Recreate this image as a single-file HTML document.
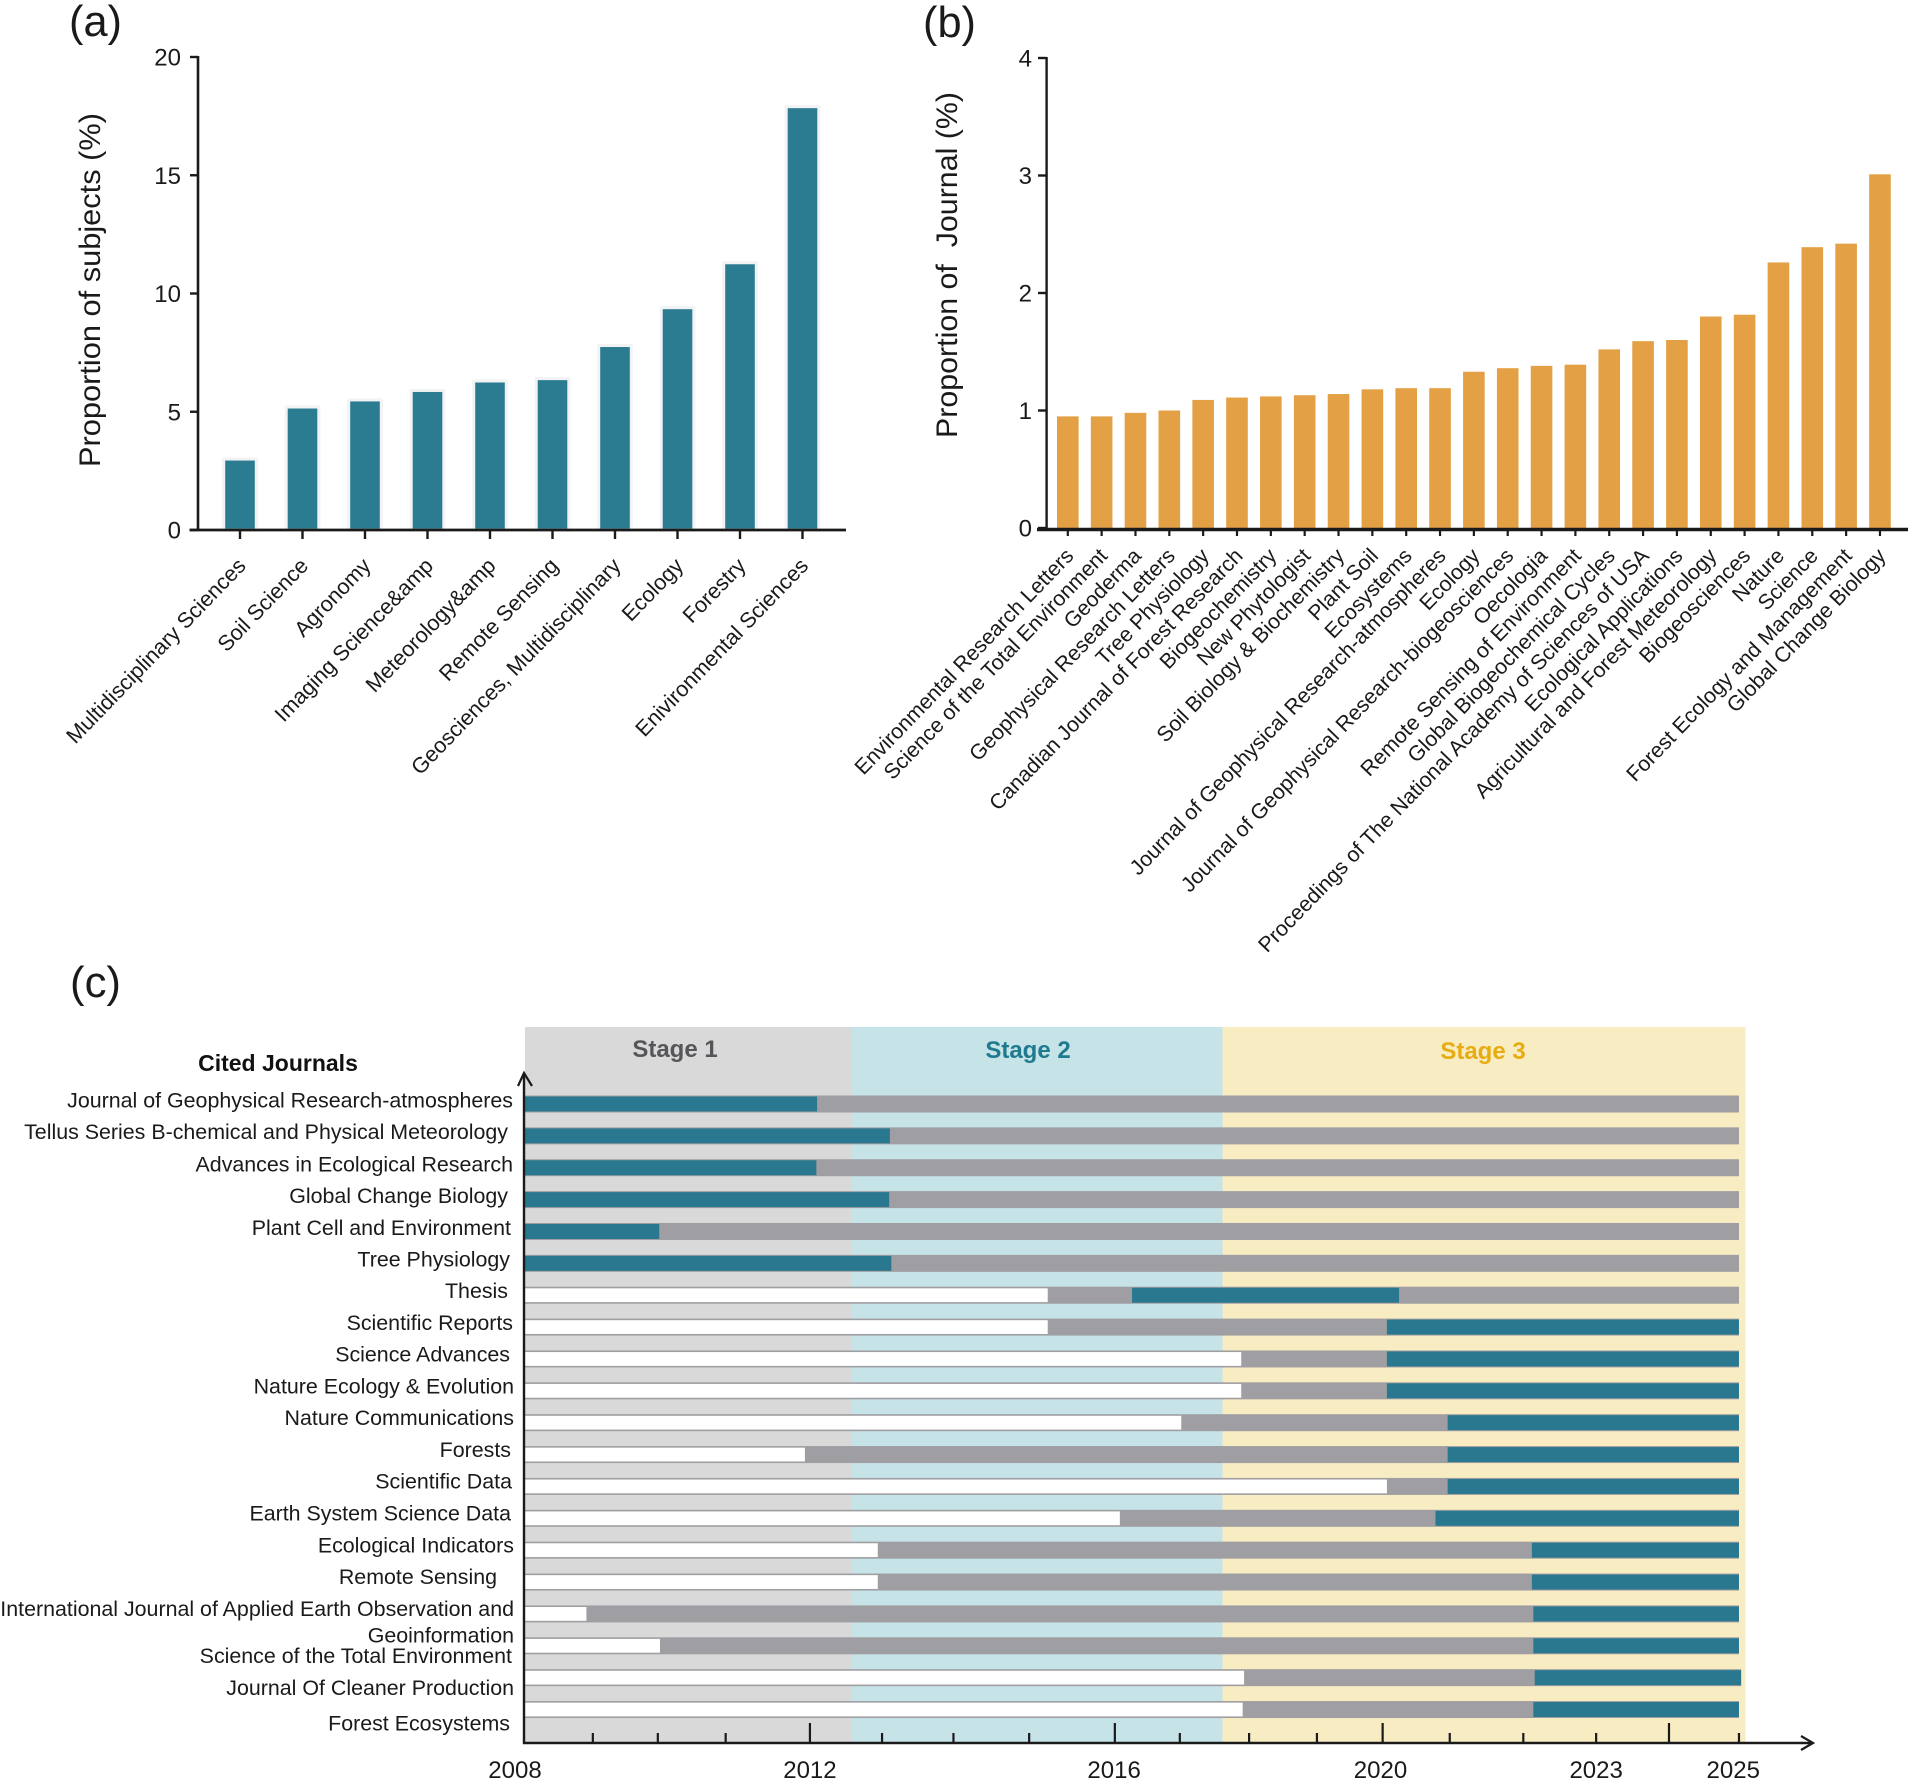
<!DOCTYPE html>
<html lang="en">
<head>
<meta charset="utf-8">
<title>Subject, journal and cited journal analysis</title>
<style>
html,body{margin:0;padding:0;background:#fff;}
svg{display:block;font-family:"Liberation Sans",sans-serif;}
text{fill:#1a1a1a;}
.tick{font-size:24px;}
.plabel{font-size:44px;}
.axt{font-size:30px;white-space:pre;}
.xl{font-size:21.7px;}
.xb{font-size:21.3px;}
.j{font-size:21.4px;text-anchor:end;}
.st{font-size:24px;font-weight:bold;text-anchor:middle;}
.yr{font-size:24px;text-anchor:middle;}
</style>
</head>
<body>
<svg id="fig" xmlns="http://www.w3.org/2000/svg" width="1908" height="1783" viewBox="0 0 1908 1783">
  <rect x="0" y="0" width="1908" height="1783" fill="#fff"/>

  <text class="plabel" x="69" y="36" textLength="53" lengthAdjust="spacingAndGlyphs">(a)</text>
  <text class="plabel" x="923" y="37" textLength="53" lengthAdjust="spacingAndGlyphs">(b)</text>
  <text class="plabel" x="70" y="997" textLength="51" lengthAdjust="spacingAndGlyphs">(c)</text>

  <g id="panelA">
    <text class="axt" transform="translate(100,467) rotate(-90)" textLength="354" lengthAdjust="spacingAndGlyphs">Proportion of subjects (%)</text>
  </g>
  <g id="panelB">
    <text class="axt" transform="translate(957,438) rotate(-90)" textLength="346" lengthAdjust="spacingAndGlyphs" xml:space="preserve">Proportion of  Journal (%)</text>
  </g>

  <g id="panelC">
    <rect x="525" y="1027" width="326" height="716" fill="#d9d9d9"/>
    <rect x="851" y="1027" width="371.5" height="716" fill="#c6e3e8"/>
    <rect x="1222.5" y="1027" width="523" height="716" fill="#f8ecc3"/>
    <text class="st" x="675" y="1057" style="fill:#555659">Stage 1</text>
    <text class="st" x="1028" y="1058" style="fill:#1f7a90">Stage 2</text>
    <text class="st" x="1483" y="1059" style="fill:#e6ac12">Stage 3</text>
    <text x="278" y="1071" text-anchor="middle" font-size="23" font-weight="bold" style="fill:#111">Cited Journals</text>

    <g id="rows"></g>
    <g id="cAxis"></g>

    <text class="j" x="513" y="1107.5">Journal of Geophysical Research-atmospheres</text>
    <text class="j" x="508" y="1139">Tellus Series B-chemical and Physical Meteorology</text>
    <text class="j" x="513" y="1171.5">Advances in Ecological Research</text>
    <text class="j" x="508" y="1203">Global Change Biology</text>
    <text class="j" x="511" y="1235">Plant Cell and Environment</text>
    <text class="j" x="510" y="1266.5">Tree Physiology</text>
    <text class="j" x="508" y="1298">Thesis</text>
    <text class="j" x="513" y="1330">Scientific Reports</text>
    <text class="j" x="510" y="1361.5">Science Advances</text>
    <text class="j" x="514" y="1393.5">Nature Ecology &amp; Evolution</text>
    <text class="j" x="514" y="1425">Nature Communications</text>
    <text class="j" x="511" y="1457">Forests</text>
    <text class="j" x="512" y="1488.5">Scientific Data</text>
    <text class="j" x="511" y="1520.5">Earth System Science Data</text>
    <text class="j" x="514" y="1552.5">Ecological Indicators</text>
    <text class="j" x="497" y="1584">Remote Sensing</text>
    <text class="j" x="514" y="1616">International Journal of Applied Earth Observation and</text>
    <text class="j" x="514" y="1642.5">Geoinformation</text>
    <text class="j" x="512" y="1663">Science of the Total Environment</text>
    <text class="j" x="514" y="1695">Journal Of Cleaner Production</text>
    <text class="j" x="510" y="1730.5">Forest Ecosystems</text>
  </g>
</svg>

<script>
// Panel (a) data
const subjectNames = ["Multidisciplinary Sciences","Soil Science","Agronomy","Imaging Science&amp","Meteorology&amp","Remote Sensing","Geosciences, Multidisciplinary","Ecology","Forestry","Enivironmental Sciences"];
const subjectValues = [3.0,5.2,5.5,5.9,6.3,6.4,7.8,9.4,11.3,17.9];
const subjectTicks = [0,5,10,15,20];

// Panel (b) data
const journalNames = ["Environmental Research Letters","Science of the Total Environment","Geoderma","Geophysical Research Letters","Tree Physiology","Canadian Journal of Forest Research","Biogeochemistry","New Phytologist","Soil Biology & Biochemistry","Plant Soil","Ecosystems","Journal of Geophysical Research-atmospheres","Ecology","Journal of Geophysical Research-biogeosciences","Oecologia","Remote Sensing of Environment","Global Biogeochemical Cycles","Proceedings of The National Academy of Sciences of USA","Ecological Applications","Agricultural and Forest Meteorology","Biogeosciences","Nature","Science","Forest Ecology and Management","Global Change Biology"];
const journalValues = [0.95,0.95,0.98,1.0,1.09,1.11,1.12,1.13,1.14,1.18,1.19,1.19,1.33,1.36,1.38,1.39,1.52,1.59,1.60,1.80,1.815,2.26,2.39,2.42,3.01];
const journalTicks = [0,1,2,3,4];

// Panel (c) data, all values in decimal years
const citedJournals = ["Journal of Geophysical Research-atmospheres","Tellus Series B-chemical and Physical Meteorology","Advances in Ecological Research","Global Change Biology","Plant Cell and Environment","Tree Physiology","Thesis","Scientific Reports","Science Advances","Nature Ecology & Evolution","Nature Communications","Forests","Scientific Data","Earth System Science Data","Ecological Indicators","Remote Sensing","International Journal of Applied Earth Observation and Geoinformation","Science of the Total Environment","Journal Of Cleaner Production","Forest Ecosystems"];
const firstCited = [2008,2008,2008,2008,2008,2008,2015.32,2015.32,2018.03,2018.03,2017.19,2011.92,2020.07,2016.33,2012.94,2012.94,2008.86,2009.89,2018.07,2018.05];
const burstStart = [2008,2008,2008,2008,2008,2008,2016.5,2020.07,2020.07,2020.07,2020.92,2020.92,2020.92,2020.75,2022.1,2022.1,2022.12,2022.12,2022.14,2022.12];
const burstEnd = [2012.09,2013.11,2012.08,2013.1,2009.88,2013.13,2020.24,2025,2025,2025,2025,2025,2025,2025,2025,2025,2025,2025,2025.03,2025];
const lastYear = [2025,2025,2025,2025,2025,2025,2025,2025,2025,2025,2025,2025,2025,2025,2025,2025,2025,2025,2025.03,2025];
const minorTickYears = [2008.95,2009.86,2010.81,2013,2014,2015.06,2017.17,2018.14,2019.09,2020.95,2021.98,2023,2025];
const majorTickYears = [2011.99,2016.26,2020.01,2024.02];
const yearLabels = ["2008","2012","2016","2020","2023","2025"];
const yearLabelPositions = [2007.86,2011.99,2016.25,2019.98,2023,2024.92];

const NS = "http://www.w3.org/2000/svg";
function mk(tag, parent){
  const el = document.createElementNS(NS, tag);
  parent.appendChild(el);
  return el;
}
function rect(parent, x, y, w, h, fill){
  const el = mk("rect", parent);
  el.setAttribute("x", x);
  el.setAttribute("y", y);
  el.setAttribute("width", Math.max(0, w));
  el.setAttribute("height", Math.max(0, h));
  el.setAttribute("fill", fill);
  return el;
}
function line(parent, x1, y1, x2, y2, width, color){
  const el = mk("line", parent);
  el.setAttribute("x1", x1);
  el.setAttribute("y1", y1);
  el.setAttribute("x2", x2);
  el.setAttribute("y2", y2);
  el.setAttribute("stroke", color || "#1a1a1a");
  el.setAttribute("stroke-width", width);
  return el;
}
function label(parent, str, x, y, cls, anchor){
  const el = mk("text", parent);
  el.setAttribute("x", x);
  el.setAttribute("y", y);
  el.setAttribute("class", cls);
  if (anchor) el.setAttribute("text-anchor", anchor);
  el.textContent = str;
  return el;
}

// Panel (a)
const gA = document.getElementById("panelA");
const aX = i => 240 + i * (802.5 - 240) / 9;
const aY = v => 530 - v * (530 - 57) / 20;
subjectValues.forEach((v, i) => {
  const b = rect(gA, aX(i) - 16.3, aY(v), 32.6, aY(0) - aY(v), "#2c7c91");
  b.setAttribute("stroke", "#f1f3f4");
  b.setAttribute("stroke-width", "3");
  
  
});
let axA = line(gA, 198, aY(20) - 1, 198, aY(0) + 1, 2.6);


axA = line(gA, 189.5, aY(0), 846, aY(0), 2.8);


subjectTicks.forEach(t => {
  const tk = line(gA, 190, aY(t), 198, aY(t), 2.4);
  
  
  const lb = label(gA, String(t), 181, aY(t) + 8.5, "tick", "end");
  
  
});
subjectNames.forEach((n, i) => {
  const tk = line(gA, aX(i), aY(0), aX(i), 539, 2.4);
  
  
  const lb = label(gA, n, 0, 0, "xl", "end");
  lb.setAttribute("transform", "translate(" + (aX(i) + 7) + ",567) rotate(-46)");
  
  
});

// Panel (b)
const gB = document.getElementById("panelB");
const bX = i => 1067.8 + i * 33.84;
const bY = v => 528 - v * 117.5;
journalValues.forEach((v, i) => {
  const b = rect(gB, bX(i) - 10.8, bY(v), 21.6, bY(0) - bY(v), "#e3a044");
  
  
});
let axB = line(gB, 1046.6, bY(4) - 1, 1046.6, bY(0) + 1, 2.4);


axB = line(gB, 1037, bY(0) + 1.5, 1908, bY(0) + 1.5, 3.4);


journalTicks.forEach(t => {
  const tk = line(gB, 1038, bY(t), 1046.6, bY(t), 2.4);
  
  
  const lb = label(gB, String(t), 1032, bY(t) + 8.5, "tick", "end");
  
  
});
journalNames.forEach((n, i) => {
  const tk = line(gB, bX(i), bY(0), bX(i), 536, 2.2);
  
  
  const lb = label(gB, n, 0, 0, "xb", "end");
  lb.setAttribute("transform", "translate(" + (bX(i) + 7) + ",557) rotate(-46)");
  
  
});

// Panel (c)
const gRows = document.getElementById("rows");
const gAxis = document.getElementById("cAxis");
const cX = y => 525 + (y - 2008) * 71.41;
const rowY = i => 1104 + i * 31.87;
const ROW_H = 17;
citedJournals.forEach((name, i) => {
  const top = rowY(i) - ROW_H / 2;
  const grey = rect(gRows, cX(2008), top, cX(lastYear[i]) - cX(2008), ROW_H, "#9f9ea2");
  
  
  if (firstCited[i] > 2008) {
    const white = rect(gRows, cX(2008), top + 1.6, cX(firstCited[i]) - cX(2008), ROW_H - 3.2, "#ffffff");
    
    
  }
  const burst = rect(gRows, cX(burstStart[i]), top + 1, cX(burstEnd[i]) - cX(burstStart[i]), ROW_H - 2, "#29788f");
  
  
});
let axC = line(gAxis, 524, 1075, 524, 1744, 2.4);


axC = line(gAxis, 523, 1743, 1812, 1743, 2.4);


let arrow = mk("polyline", gAxis);
arrow.setAttribute("points", "518,1086 524,1073 532,1086");
arrow.setAttribute("fill", "none");
arrow.setAttribute("stroke", "#1a1a1a");
arrow.setAttribute("stroke-width", "2.2");


arrow = mk("polyline", gAxis);
arrow.setAttribute("points", "1801,1736 1813,1743 1801,1750");
arrow.setAttribute("fill", "none");
arrow.setAttribute("stroke", "#1a1a1a");
arrow.setAttribute("stroke-width", "2.2");


minorTickYears.forEach(y => {
  const tk = line(gAxis, cX(y), 1733, cX(y), 1743, 2.2);
  
  
});
majorTickYears.forEach(y => {
  const tk = line(gAxis, cX(y), 1723, cX(y), 1743, 2.2);
  
  
});
yearLabels.forEach((s, i) => {
  const lb = label(gAxis, s, cX(yearLabelPositions[i]), 1778, "yr");
  
  
});
</script>
</body>
</html>
